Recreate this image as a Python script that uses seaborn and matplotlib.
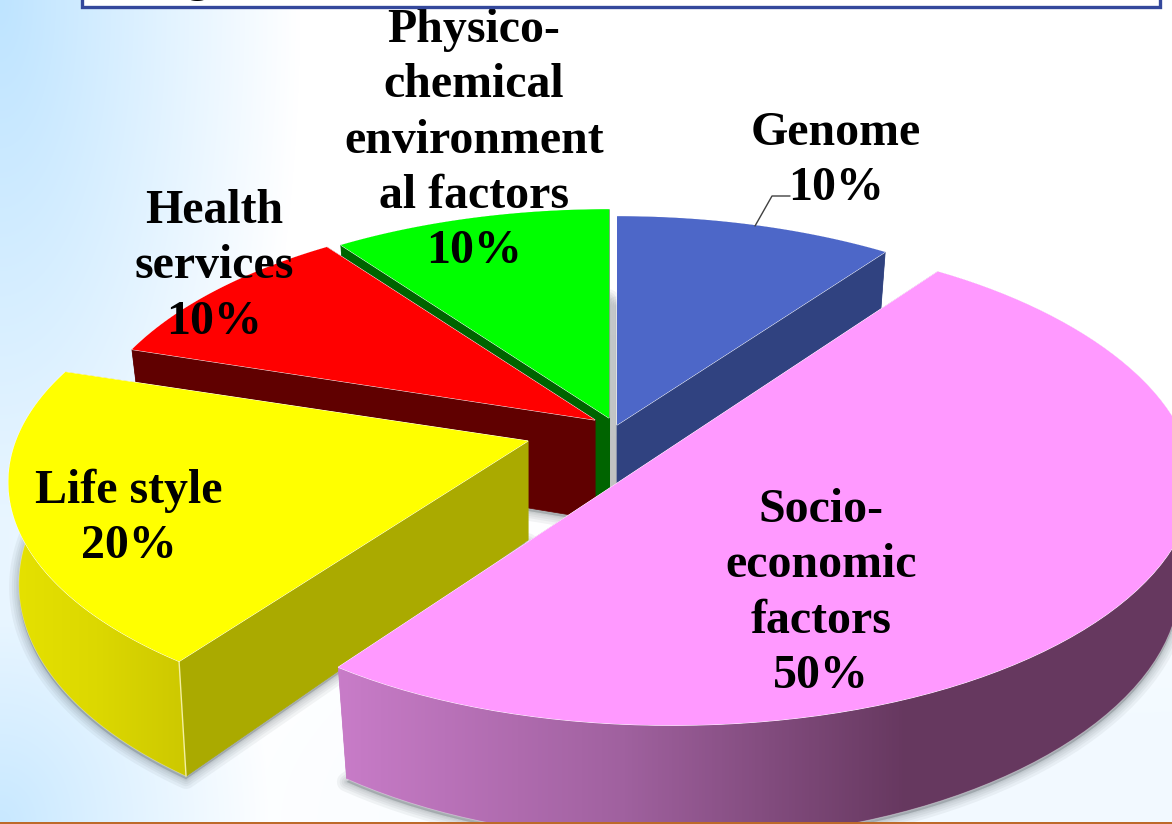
import numpy as np
import matplotlib
matplotlib.use("Agg")
import matplotlib.pyplot as plt
from matplotlib.colors import LinearSegmentedColormap
from matplotlib.patches import Polygon, Rectangle
import seaborn as sns

# clockwise from 12 o'clock
labels = ["Genome", "Socio-\neconomic\nfactors", "Life style", "Health\nservices",
          "Physico-\nchemical\nenvironment\nal factors"]
shares = [10, 50, 20, 10, 10]

top_cols = sns.color_palette(["#4d67c8", "#ff99ff", "#ffff00", "#ff0000", "#00ff00"])
wall_cols = sns.color_palette(["#304280", "#c378c3", "#aaaa00", "#600000", "#006400"])
# outer rim gradient per wedge (only the two near ones show)
rim_cols = {1: ["#c87cc8", "#a0619f", "#66385f", "#66385f"], 2: ["#e6e200", "#dcd800", "#cdc800"]}

apex = [(617, 425), (672, 447), (528, 441), (595, 420), (609, 418)]
text_pos = [(836, 133), (821, 510), (129, 491), (214, 211), (474, 30)]
line_h = 55.3

# pie projection per wedge: width, height, perspective, rim depth, rim taper
proj_a = [508, 503, 512, 508, 508]
proj_b = [238, 243, 235, 238, 238]
proj_k = [0.14, 0.14, 0.17, 0.14, 0.14]
proj_d = [99, 99, 99, 99, 99]
proj_s = [0.975, 0.975, 0.98, 0.975, 0.975]
# the big wedge is a bit squarer than an ellipse
bulge_x = [0, 0.025, 0, 0, 0]
flat_y = [0, 0.015, 0, 0, 0]

sns.set_theme(style="white")
plt.rcParams["font.family"] = ["Liberation Serif", "DejaVu Serif"]

fig = plt.figure(figsize=(11.72, 8.24), dpi=100)
ax = fig.add_axes([0, 0, 1, 1])
ax.set_axis_off()


def top_xy(t, i, scale=1.0, drop=0.0):
    u, v = np.sin(t), np.cos(t)
    w = 1 + proj_k[i] * v
    fx = 1 + bulge_x[i] * np.sin(t - np.deg2rad(10)) ** 4
    fy = 1 - flat_y[i] * v ** 4
    return np.c_[apex[i][0] + scale * proj_a[i] * u * fx / w,
                 apex[i][1] - proj_b[i] * v * fy / w + drop / w]


def bot_xy(t, i):
    return top_xy(t, i, proj_s[i], proj_d[i])


# background, soft blue corners
yy, xx = np.mgrid[0:824, 0:1172]
tl = np.clip(1 - np.hypot(xx / 300, yy / 800), 0, 1)
bl = 0.85 * np.clip(1 - np.hypot(xx / 280, (824 - yy) / 350), 0, 1)
br = 0.2 * np.clip(1.3 - np.hypot((1172 - xx) / 800, (824 - yy) / 300), 0, 1)
band = 0.35 * np.clip(1 - xx / 260, 0, 1)
fade = np.max([tl, bl, br, band], axis=0)[..., None]
bg = (1 - fade) * np.array([1.0, 1.0, 1.0]) + fade * np.array([190, 228, 255]) / 255
ax.imshow(bg, extent=(0, 1172, 824, 0), aspect="auto", zorder=0)

# angles come from the shares
edges = np.deg2rad(np.cumsum([0] + shares) * 3.6)
wedges = [np.linspace(edges[i], edges[i + 1], 90) for i in range(len(shares))]

# shadows go under everything
for i, t in enumerate(wedges):
    c = apex[i]
    poly = np.vstack([[c[0], c[1] + proj_d[i]], bot_xy(t, i)]) + [0, 3]
    for lw in [14, 10, 7, 4, 2]:
        ax.add_patch(Polygon(poly, closed=True, fc="#5a6468", ec="#5a6468", lw=lw, alpha=0.07,
                             joinstyle="round", zorder=1))

# gap between green and blue has a grey fall-off
gap = np.zeros((64, 1, 4))
gap[..., :3] = 0.76
gap[:, 0, 3] = np.linspace(0, 0.95, 64) ** 1.5
ax.imshow(gap, extent=(606, 619, 490, 330), aspect="auto", zorder=1.5)

z = 2
for i in [4, 0, 3, 2, 1]:  # back to front
    t = wedges[i]
    c = apex[i]
    c_bot = (c[0], c[1] + proj_d[i])
    top = top_xy(t, i)
    bot = bot_xy(t, i)

    # radial walls
    for j in (0, -1):
        quad = [c, top[j], bot[j], c_bot]
        ax.add_patch(Polygon(quad, closed=True, fc=wall_cols[i], ec=wall_cols[i], lw=0.5, zorder=z))
        z += 1

    # rim
    rim = np.vstack([top, bot[::-1]])
    if i in rim_cols:
        cmap = LinearSegmentedColormap.from_list("rim%d" % i, rim_cols[i])
        x0, x1 = rim[:, 0].min(), rim[:, 0].max()
        y0, y1 = rim[:, 1].min(), rim[:, 1].max()
        im = ax.imshow(np.linspace(0, 1, 256)[None, :], cmap=cmap, aspect="auto",
                       extent=(x0, x1, y1, y0), zorder=z)
        im.set_clip_path(Polygon(rim, closed=True, transform=ax.transData))
        ax.plot(bot[:, 0], bot[:, 1], color="white", lw=0.6, alpha=0.35, zorder=z + 0.5)
    else:
        ax.add_patch(Polygon(rim, closed=True, fc=wall_cols[i], ec="none", zorder=z))
    z += 1

    # thin light seam on the yellow corner
    if i == 2:
        ax.plot([top[0, 0], bot[0, 0]], [top[0, 1], bot[0, 1]], color="#f4f0a0", lw=1, zorder=z)
    z += 1

    face = np.vstack([c, top])
    ax.add_patch(Polygon(face, closed=True, fc=top_cols[i], ec="white", lw=0.7, zorder=z))
    ax.add_patch(Polygon(face, closed=True, fc=top_cols[i], ec="none", zorder=z))
    z += 1

# percentage labels, one line at a time
for lab, sh, pos in zip(labels, shares, text_pos):
    for n, line in enumerate(lab.split("\n") + ["%d%%" % sh]):
        ax.text(pos[0], pos[1] + n * line_h, line, fontsize=34.5, fontweight="bold",
                color="black", ha="center", va="center", zorder=200)

# Genome leader
ax.plot([755, 772, 790], [226, 196, 196], color="#404040", lw=1, zorder=199)

# title box cut off by the frame
ax.add_patch(Rectangle((82, -10), 1078, 17, fc="white", ec="#34489c", lw=2.4, zorder=210))
clip_box = Rectangle((84, -10), 1074, 15, transform=ax.transData)
g = ax.text(198, -9, "g", fontsize=34.5, fontweight="bold", color="black", ha="center",
            va="baseline", zorder=211)
g.set_clip_path(clip_box)

# footer rule
ax.add_patch(Rectangle((0, 821.5), 1172, 3, fc="#bd6a2a", ec="none", zorder=220))

ax.set_xlim(0, 1172)
ax.set_ylim(824, 0)
fig.savefig("out.png", dpi=100)
